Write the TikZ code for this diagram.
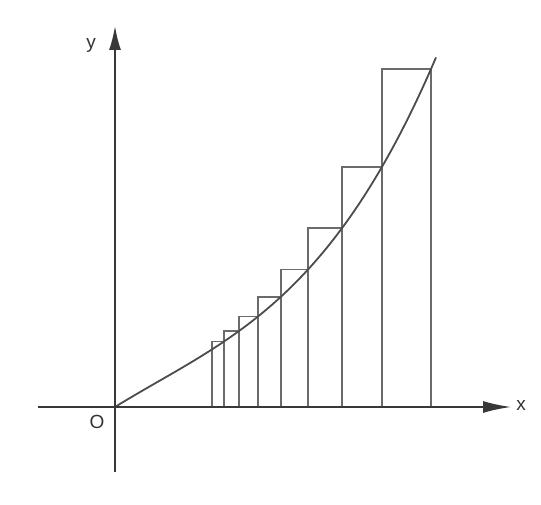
\documentclass[tikz,border=0pt]{standalone}
\usepackage{fontspec}
\setmainfont{Liberation Sans}
\usetikzlibrary{arrows.meta}
\begin{document}
\begin{tikzpicture}[x=1pt,y=1pt,
  axis/.style={draw=black!78, line width=1.8pt},
  bar/.style={draw=black!58, line width=1.7pt},
  curveline/.style={draw=black!70, line width=1.8pt},
  lbl/.style={font=\fontsize{19}{22}\selectfont, text=black!80, inner sep=0pt},
  declare function={f(\t)=61.71*\t-9.81*\t*\t+7.637*\t*\t*\t;}]
\useasboundingbox (0,0) rectangle (541,504);
\fill[white] (0,0) rectangle (541,504);
\coordinate (O) at (115,97);
% bars
\begin{scope}[shift={(O)}]
\foreach \l/\r in {97/109,109/124,124/143,143/166,166/193,193/227,227/267,267/316}
  \draw[bar] (\l,0) rectangle (\r,{f(\r/100)});
% curve
\draw[curveline] plot[domain=0:321,samples=120,smooth] (\x,{f(\x/100)});
\end{scope}
% axes
\coordinate (xs) at (38,97);
\coordinate (xe) at (511,97);
\coordinate (ys) at (115,32);
\coordinate (ye) at (115,478);
\draw[axis,-{Latex[length=28pt,width=12pt]}] (xs) -- (xe);
\draw[axis,-{Latex[length=24pt,width=12pt]}] (ys) -- (ye);
% labels
\node[lbl] (xl) at (521,99) {x};
\node[lbl] (yl) at (91,459) {y};
\node[lbl] (ol) at (97,82) {O};
\end{tikzpicture}
\end{document}
